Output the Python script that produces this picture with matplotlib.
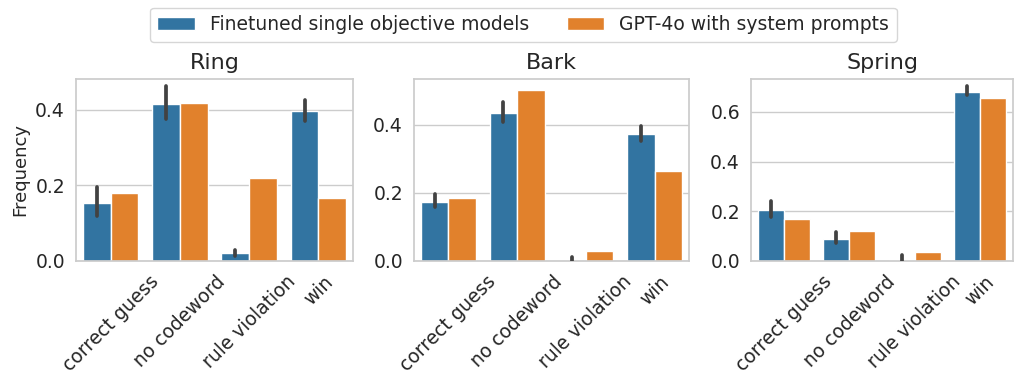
import numpy as np
import matplotlib
matplotlib.use("Agg")
import matplotlib.pyplot as plt
import seaborn as sns

sns.set_theme(style="whitegrid", font_scale=1.2)
plt.rcParams['font.family'] = ['DejaVu Sans']

categories = ["correct guess", "no codeword", "rule violation", "win"]
games = ["Ring", "Bark", "Spring"]
series = ["Finetuned single objective models", "GPT-4o with system prompts"]

# finetuned means with error-bar low / high
ft_mean = {
    "Ring":   [0.154, 0.415, 0.020, 0.397],
    "Bark":   [0.174, 0.435, 0.000, 0.372],
    "Spring": [0.204, 0.089, 0.006, 0.681],
}
ft_lo = {
    "Ring":   [0.120, 0.375, 0.013, 0.372],
    "Bark":   [0.157, 0.409, 0.000, 0.352],
    "Spring": [0.176, 0.072, 0.000, 0.667],
}
ft_hi = {
    "Ring":   [0.197, 0.464, 0.029, 0.427],
    "Bark":   [0.197, 0.467, 0.012, 0.397],
    "Spring": [0.240, 0.118, 0.023, 0.705],
}
gpt = {
    "Ring":   [0.179, 0.419, 0.221, 0.167],
    "Bark":   [0.186, 0.503, 0.028, 0.265],
    "Spring": [0.168, 0.121, 0.036, 0.655],
}
ytop = {"Ring": 0.482, "Bark": 0.534, "Spring": 0.732}
yticks = {"Ring": [0.0, 0.2, 0.4], "Bark": [0.0, 0.2, 0.4], "Spring": [0.0, 0.2, 0.4, 0.6]}

colors = ["#3274a1", "#e1812c"]

fig = plt.figure(figsize=(10.16, 3.70), dpi=100)
lefts = [76, 414, 751]
widths = [277, 275, 262]
bottom, top = 261, 79
axes = []
for i, g in enumerate(games):
    ax = fig.add_axes([lefts[i] / 1016, 1 - bottom / 370, widths[i] / 1016, (bottom - top) / 370])
    x = np.arange(len(categories))
    w = 0.4
    ax.bar(x - w / 2, ft_mean[g], w, color=colors[0], edgecolor="white", linewidth=1, label=series[0])
    ax.bar(x + w / 2, gpt[g], w, color=colors[1], edgecolor="white", linewidth=1, label=series[1])
    for xi, lo, hi in zip(x - w / 2, ft_lo[g], ft_hi[g]):
        ax.plot([xi, xi], [lo, hi], color=".26", linewidth=2.7, solid_capstyle="round", zorder=3)
    ax.set_xlim(-0.5, len(categories) - 0.5)
    ax.set_ylim(0, ytop[g])
    ax.set_yticks(yticks[g])
    ax.set_xticks(x)
    ax.set_xticklabels(categories, rotation=45)
    ax.set_title(g, fontsize=16, pad=7)
    ax.grid(axis="x", visible=False)
    ax.tick_params(axis="both", labelsize=13.5, pad=2)
    if i == 0:
        ax.set_ylabel("Frequency", fontsize=13)
    axes.append(ax)

handles, labels = axes[0].get_legend_handles_labels()
fig.legend(handles, labels, loc="upper center", ncol=2, bbox_to_anchor=(0.515, 1.005),
           fontsize=13.5, frameon=True)

fig.savefig("out.png", dpi=100)
